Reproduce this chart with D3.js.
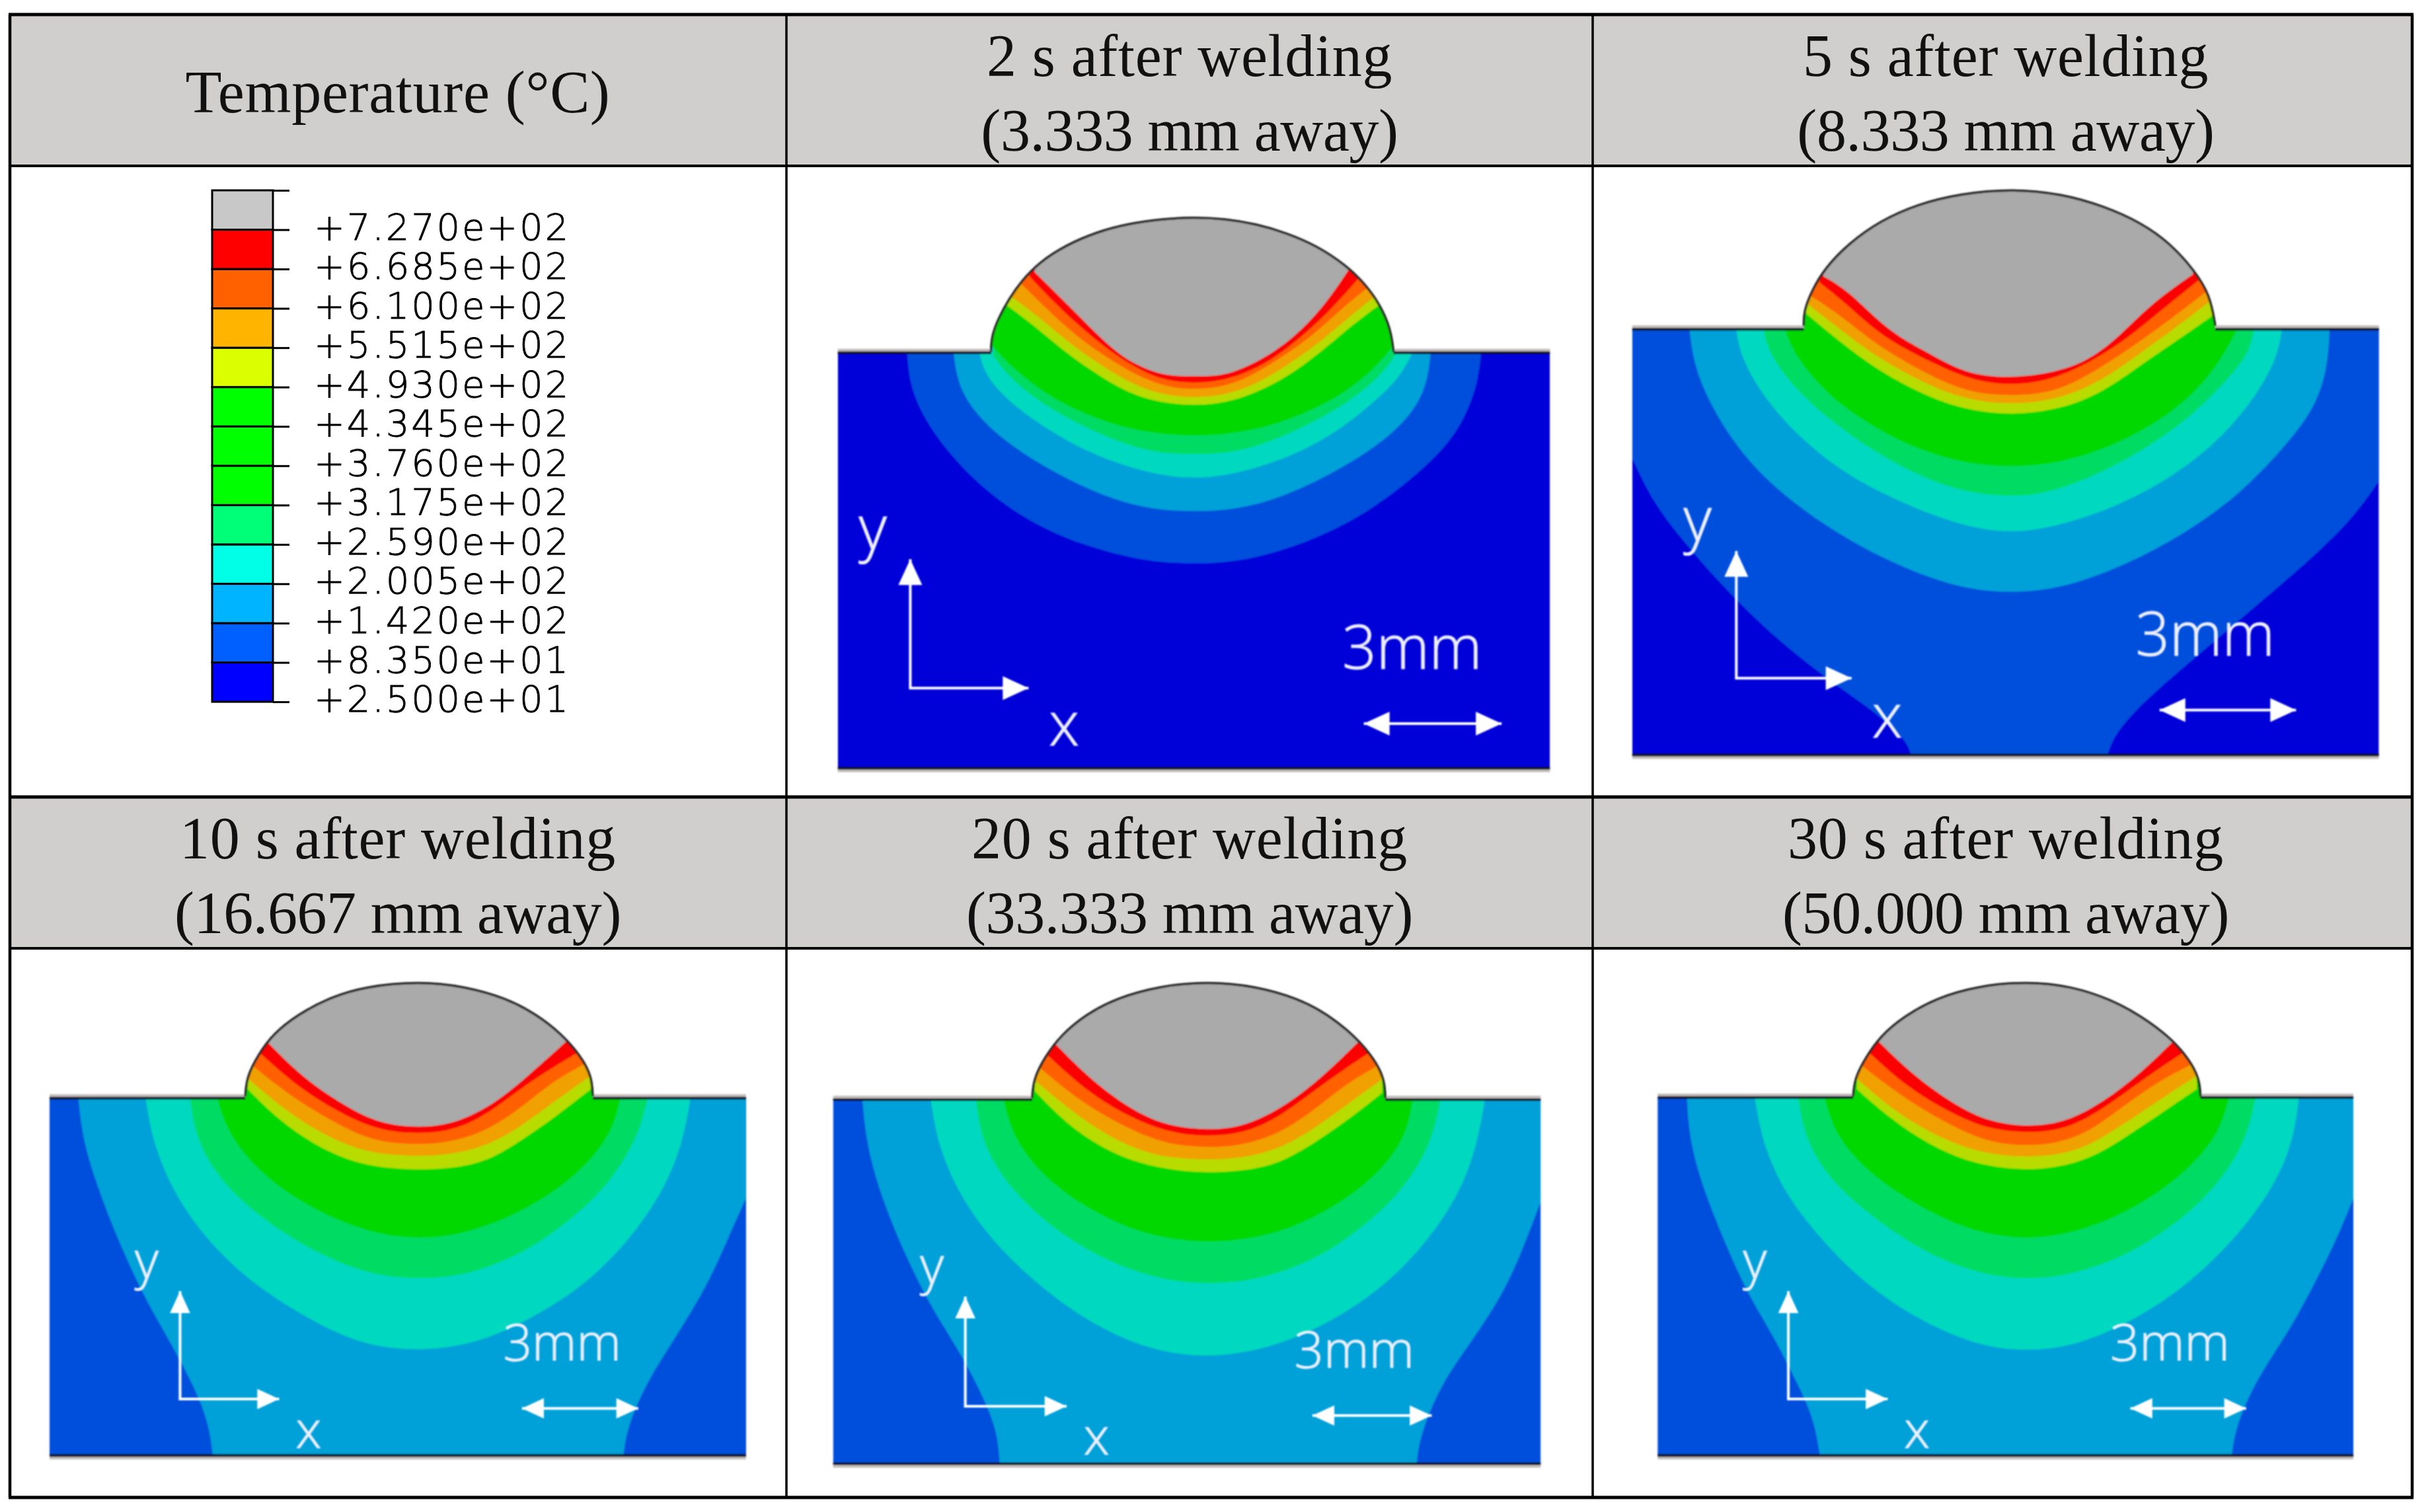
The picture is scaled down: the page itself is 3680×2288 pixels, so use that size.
<!DOCTYPE html>
<html lang="en">

<head>
  <meta charset="UTF-8">
  <title>Temperature after welding</title>
  <style>
    html, body { margin: 0; padding: 0; background: #fff; }
    svg { display: block; }
  </style>
</head>

<body>
  <svg id="chart" width="3680" height="2288"></svg>
  <script src="https://d3js.org/d3.v7.min.js"></script>
  <script>
    // Legend values (deg C) and the printed labels
    var legendValues = [25, 83.5, 142, 200.5, 259, 317.5, 376, 434.5, 493, 551.5, 610, 668.5, 727, 785.5];
    var legendLabels = ["+2.500e+01", "+8.350e+01", "+1.420e+02", "+2.005e+02", "+2.590e+02", "+3.175e+02", "+3.760e+02",
      "+4.345e+02", "+4.930e+02", "+5.515e+02", "+6.100e+02", "+6.685e+02", "+7.270e+02", ""];
    var legendColors = ["#0000ff", "#0060ff", "#00b4ff", "#00ffe6", "#00ff78", "#00ff00", "#00ff00", "#00ff00",
      "#dcff00", "#ffb400", "#ff6000", "#ff0000", "#c8c8c8"];

    // Band colours in the plots, coolest first (the plots are a bit duller than the legend)
    var baseColor = "#0000d8";
    var bandColors = ["#0050dc", "#00a0d8", "#00d8c0", "#00dc64", "#00d800", "#b8dc00", "#f0a000", "#ff6000", "#fa0000", "#aaaaaa"];

    var headerRow1 = ["Temperature (°C)", "2 s after welding\n(3.333 mm away)", "5 s after welding\n(8.333 mm away)"];
    var headerRow2 = ["10 s after welding\n(16.667 mm away)", "20 s after welding\n(33.333 mm away)", "30 s after welding\n(50.000 mm away)"];

    // Bead outlines and isotherms in a 0-1568 square image unit
    var bead1 = [[385, 468], [386, 430], [400, 385], [420, 340], [445, 295], [480, 250], [530, 210], [590, 178], [650, 158], [720, 146], [780, 142], [840, 146], [900, 158], [960, 180], [1020, 212], [1075, 258], [1110, 300], [1140, 350], [1162, 410], [1168, 468]];
    var contours1 = [
      [[222, 470], [226, 540], [250, 620], [300, 710], [370, 800], [460, 880], [560, 935], [680, 975], [780, 982], [880, 975], [1000, 930], [1100, 870], [1190, 790], [1270, 700], [1310, 620], [1332, 540], [1338, 470]],
      [[312, 470], [322, 560], [370, 640], [440, 710], [530, 775], [620, 825], [700, 850], [780, 855], [860, 850], [940, 825], [1030, 775], [1120, 710], [1190, 640], [1232, 560], [1240, 470]],
      [[362, 470], [375, 530], [430, 600], [500, 660], [580, 715], [660, 750], [730, 770], [780, 773], [830, 770], [900, 750], [980, 715], [1060, 660], [1130, 590], [1180, 530], [1205, 470]],
      [[390, 478], [420, 530], [480, 590], [550, 640], [630, 685], [700, 712], [780, 717], [860, 712], [930, 685], [1010, 640], [1080, 590], [1140, 530], [1170, 478]],
      [[385, 450], [420, 500], [490, 570], [560, 615], [640, 652], [720, 668], [780, 671], [840, 668], [920, 652], [1000, 615], [1070, 570], [1130, 510], [1170, 450]],
      [[410, 350], [470, 405], [530, 470], [600, 530], [660, 572], [720, 592], [780, 598], [840, 592], [900, 567], [960, 530], [1030, 465], [1090, 400], [1145, 350]],
      [[425, 335], [480, 385], [540, 450], [610, 510], [670, 552], [720, 572], [780, 580], [840, 572], [890, 552], [950, 510], [1020, 450], [1080, 385], [1135, 330]],
      [[445, 305], [490, 360], [550, 430], [620, 490], [680, 532], [730, 554], [780, 559], [830, 554], [880, 534], [940, 490], [1010, 430], [1065, 365], [1120, 310]],
      [[460, 285], [505, 345], [565, 415], [630, 480], [690, 522], [730, 538], [780, 544], [830, 538], [870, 524], [930, 490], [1000, 420], [1050, 360], [1100, 290]],
      [[470, 275], [515, 330], [575, 405], [635, 478], [690, 512], [730, 526], [780, 527], [830, 526], [870, 512], [935, 470], [990, 415], [1040, 345], [1080, 270]]
    ];

    var bead2 = [[385, 405], [385, 370], [400, 320], [425, 265], [470, 205], [530, 150], [600, 110], [680, 85], [775, 73], [870, 85], [950, 115], [1020, 155], [1075, 205], [1120, 270], [1150, 330], [1160, 405]];
    var contours2 = [
      [[62, 725], [100, 830], [160, 930], [250, 1060], [340, 1170], [440, 1270], [530, 1350], [575, 1405], [588, 1440], [595, 1490], [950, 1490], [957, 1440], [970, 1395], [1020, 1320], [1120, 1210], [1230, 1090], [1340, 970], [1420, 870], [1468, 780]],
      [[170, 415], [178, 500], [210, 600], [270, 720], [350, 820], [450, 910], [560, 985], [680, 1042], [775, 1052], [870, 1042], [990, 985], [1100, 910], [1200, 820], [1290, 700], [1350, 600], [1372, 500], [1375, 415]],
      [[258, 415], [266, 480], [310, 580], [380, 680], [470, 770], [580, 840], [690, 892], [775, 907], [860, 892], [980, 840], [1080, 770], [1170, 680], [1240, 570], [1277, 480], [1285, 415]],
      [[310, 415], [318, 470], [370, 560], [440, 640], [530, 720], [630, 785], [710, 812], [775, 818], [840, 812], [930, 770], [1020, 710], [1110, 630], [1180, 540], [1225, 470], [1232, 415]],
      [[350, 415], [365, 470], [420, 560], [490, 630], [580, 695], [680, 737], [775, 748], [870, 737], [960, 700], [1050, 640], [1120, 570], [1170, 490], [1200, 415]],
      [[385, 370], [440, 430], [510, 500], [590, 560], [680, 607], [775, 622], [870, 607], [950, 565], [1030, 490], [1100, 430], [1155, 380]],
      [[385, 345], [440, 400], [510, 470], [590, 530], [680, 582], [775, 597], [870, 582], [950, 535], [1020, 470], [1090, 405], [1150, 345]],
      [[395, 330], [450, 375], [520, 450], [600, 510], [690, 567], [775, 575], [860, 567], [940, 510], [1010, 450], [1080, 385], [1145, 320]],
      [[415, 300], [460, 345], [530, 430], [620, 490], [700, 537], [775, 550], [850, 537], [930, 490], [1000, 430], [1060, 365], [1128, 295]],
      [[422, 285], [470, 320], [545, 420], [620, 470], [690, 522], [775, 532], [860, 517], [920, 490], [980, 430], [1040, 350], [1118, 280]]
    ];

    var bead3 = [[485, 405], [488, 350], [510, 290], [540, 230], [590, 175], [650, 130], [720, 98], [830, 83], [920, 98], [1000, 130], [1060, 175], [1110, 230], [1150, 295], [1170, 350], [1172, 405]];
    var contours3 = [
      [[98, 1420], [1475, 1420]],
      [[155, 412], [163, 520], [190, 650], [240, 830], [290, 980], [340, 1100], [385, 1220], [413, 1320], [421, 1410], [424, 1470], [1231, 1470], [1232, 1410], [1240, 1330], [1280, 1200], [1340, 1070], [1400, 930], [1440, 800], [1475, 690]],
      [[288, 412], [303, 540], [345, 680], [410, 810], [500, 930], [600, 1020], [710, 1100], [830, 1120], [950, 1095], [1060, 1020], [1160, 930], [1250, 800], [1320, 650], [1352, 520], [1365, 412]],
      [[376, 412], [388, 530], [440, 650], [520, 750], [620, 840], [730, 905], [830, 917], [930, 905], [1040, 840], [1120, 760], [1200, 660], [1262, 520], [1280, 412]],
      [[430, 412], [448, 500], [500, 600], [580, 690], [680, 762], [770, 798], [830, 801], [890, 798], [980, 762], [1080, 690], [1160, 600], [1212, 500], [1226, 412]],
      [[490, 385], [550, 470], [620, 540], [700, 592], [780, 608], [830, 610], [880, 608], [960, 592], [1040, 520], [1100, 460], [1168, 385]],
      [[490, 355], [560, 440], [630, 505], [710, 557], [780, 570], [830, 572], [880, 570], [960, 547], [1030, 490], [1100, 415], [1165, 350]],
      [[500, 320], [570, 400], [650, 470], [730, 527], [790, 537], [830, 539], [880, 535], [950, 510], [1020, 450], [1090, 365], [1155, 315]],
      [[515, 285], [590, 380], [670, 450], [750, 502], [830, 510], [900, 500], [970, 450], [1050, 360], [1145, 280]],
      [[528, 252], [600, 355], [680, 430], [750, 482], [830, 493], [900, 482], [980, 425], [1050, 340], [1122, 248]]
    ];

    var bead4 = [[465, 410], [468, 355], [490, 295], [520, 235], [570, 175], [630, 130], [710, 97], [808, 83], [900, 97], [980, 130], [1040, 175], [1095, 240], [1130, 300], [1150, 355], [1152, 410]];
    var contours4 = [
      [[78, 1440], [1454, 1440]],
      [[135, 418], [143, 540], [170, 680], [215, 840], [270, 1000], [325, 1120], [375, 1260], [398, 1350], [402, 1433], [405, 1490], [1211, 1490], [1212, 1433], [1220, 1350], [1260, 1210], [1320, 1090], [1380, 960], [1420, 830], [1454, 700]],
      [[268, 418], [283, 550], [330, 700], [400, 830], [490, 950], [590, 1050], [700, 1118], [808, 1137], [920, 1113], [1030, 1050], [1140, 950], [1230, 820], [1300, 670], [1332, 530], [1345, 418]],
      [[356, 418], [368, 540], [420, 660], [500, 770], [600, 860], [710, 918], [808, 932], [910, 918], [1020, 860], [1100, 780], [1180, 680], [1242, 540], [1258, 418]],
      [[410, 418], [428, 520], [480, 620], [560, 710], [660, 782], [750, 808], [808, 813], [870, 808], [960, 782], [1060, 710], [1140, 620], [1192, 520], [1205, 418]],
      [[470, 390], [530, 480], [600, 550], [680, 597], [760, 615], [810, 618], [860, 615], [940, 599], [1020, 530], [1080, 470], [1146, 395]],
      [[470, 360], [540, 445], [610, 515], [690, 567], [760, 580], [810, 582], [860, 580], [940, 557], [1010, 500], [1080, 425], [1143, 360]],
      [[480, 325], [550, 410], [630, 480], [710, 532], [770, 545], [810, 547], [860, 545], [930, 520], [1000, 460], [1070, 375], [1133, 322]],
      [[495, 290], [570, 390], [650, 460], [730, 507], [810, 518], [880, 507], [950, 460], [1030, 370], [1118, 285]],
      [[510, 258], [580, 360], [660, 445], [730, 489], [810, 500], [880, 489], [960, 430], [1030, 350], [1100, 252]]
    ];

    var bead5 = [[478, 405], [481, 355], [500, 300], [530, 235], [575, 180], [635, 130], [710, 97], [805, 83], [890, 97], [965, 135], [1020, 180], [1075, 240], [1110, 300], [1130, 355], [1132, 405]];
    var contours5 = [
      [[110, 1420], [1420, 1420]],
      [[165, 412], [170, 530], [195, 660], [235, 810], [280, 960], [330, 1080], [370, 1200], [403, 1300], [416, 1410], [420, 1470], [1188, 1470], [1190, 1410], [1200, 1320], [1240, 1190], [1300, 1060], [1350, 920], [1390, 800], [1420, 690]],
      [[293, 412], [308, 540], [350, 680], [420, 810], [500, 930], [600, 1030], [710, 1103], [805, 1119], [900, 1103], [1010, 1030], [1110, 930], [1200, 800], [1270, 660], [1307, 530], [1317, 412]],
      [[375, 412], [388, 530], [440, 650], [520, 750], [620, 850], [730, 908], [805, 916], [880, 908], [980, 860], [1070, 780], [1150, 680], [1217, 540], [1235, 412]],
      [[425, 412], [443, 510], [500, 610], [580, 695], [680, 772], [760, 798], [805, 801], [850, 798], [930, 772], [1030, 700], [1110, 610], [1167, 510], [1185, 412]],
      [[485, 385], [550, 470], [620, 540], [700, 592], [770, 607], [810, 610], [860, 605], [930, 577], [1000, 510], [1060, 450], [1125, 385]],
      [[485, 355], [550, 440], [620, 505], [700, 557], [770, 572], [810, 574], [860, 570], [920, 547], [990, 480], [1060, 410], [1122, 350]],
      [[495, 320], [565, 400], [640, 470], [720, 527], [770, 540], [810, 542], [860, 537], [920, 507], [980, 440], [1050, 365], [1112, 318]],
      [[510, 285], [580, 380], [660, 450], [730, 497], [810, 508], [880, 497], [950, 440], [1030, 350], [1100, 282]],
      [[525, 250], [590, 345], [670, 430], [735, 477], [810, 491], [880, 477], [950, 420], [1020, 340], [1085, 245]]
    ];

    // Table grid lines in page pixels
    var colLines = [15, 1190, 2410, 3650];
    var rowLines = [22, 251, 1206, 1435, 2266];
    var headerCx = [602, 1800, 3035];

    // crop = where the image unit square sits on the page; box = plate [left, right, surface, bottom]
    var panels = [
      {
        crop: [1200, 240, 1220, 980], box: [87, 1472, 470, 1476], bead: bead1, contours: contours1, fs: 92, head: 1,
        y: [155, 945], x: [527, 1420], origin: [228, 1282], tipY: 970, tipX: 458, bar: [1110, 1378, 1368], mm: [1068, 1340, 1235]
      },
      {
        crop: [2420, 240, 1260, 980], box: [62, 1468, 413, 1444], bead: bead2, contours: contours2, fs: 92, head: 1,
        y: [185, 925], x: [542, 1402], origin: [258, 1258], tipY: 950, tipX: 475, bar: [1055, 1312, 1335], mm: [1010, 1272, 1203]
      },
      {
        crop: [0, 1440, 1200, 848], box: [98, 1475, 410, 1410], bead: bead3, contours: contours3, fs: 78, head: 0.85,
        y: [290, 915], x: [610, 1388], origin: [356, 1252], tipY: 950, tipX: 552, bar: [1032, 1262, 1278], mm: [995, 1228, 1145]
      },
      {
        crop: [1200, 1440, 1220, 848], box: [78, 1454, 414, 1433], bead: bead4, contours: contours4, fs: 78, head: 0.85,
        y: [270, 930], x: [590, 1408], origin: [335, 1272], tipY: 965, tipX: 532, bar: [1010, 1242, 1298], mm: [975, 1208, 1165]
      },
      {
        crop: [2420, 1440, 1260, 848], box: [110, 1420, 408, 1410], bead: bead5, contours: contours5, fs: 78, head: 0.85,
        y: [293, 915], x: [598, 1388], origin: [356, 1252], tipY: 950, tipX: 543, bar: [1000, 1218, 1278], mm: [962, 1187, 1145]
      }
    ];

    var svg = d3.select("#chart");
    var defs = svg.append("defs");
    defs.append("filter").attr("id", "soft")
      .append("feGaussianBlur").attr("stdDeviation", 1.1);

    // header cells
    svg.append("g").selectAll("rect")
      .data([[rowLines[0], rowLines[1]], [rowLines[2], rowLines[3]]])
      .enter().append("rect")
      .attr("x", colLines[0]).attr("width", colLines[3] - colLines[0])
      .attr("y", function (d) { return d[0]; })
      .attr("height", function (d) { return d[1] - d[0]; })
      .attr("fill", "#d0cfcd");

    function drawHeader(row, top, bottom) {
      row.forEach(function (label, i) {
        var lines = label.split("\n");
        var mid = (top + bottom) / 2;
        lines.forEach(function (line, k) {
          var base = lines.length === 1 ? mid + 33 : mid + (k === 0 ? -22 : 91);
          svg.append("text")
            .attr("x", headerCx[i]).attr("y", base)
            .attr("text-anchor", "middle")
            .style("font-family", "'Liberation Serif'")
            .style("font-size", "90px")
            .style("letter-spacing", k === 0 ? "0.7px" : "-0.4px")
            .attr("fill", "#111")
            .text(line);
        });
      });
    }
    drawHeader(headerRow1, rowLines[0], rowLines[1]);
    drawHeader(headerRow2, rowLines[2], rowLines[3]);

    // legend
    var legendY = d3.scaleLinear().domain([25, 785.5]).range([1062, 288]);
    var legend = svg.append("g");
    legend.selectAll("rect")
      .data(legendColors)
      .enter().append("rect")
      .attr("x", 321).attr("width", 92)
      .attr("y", function (d, i) { return legendY(legendValues[i + 1]); })
      .attr("height", function (d, i) { return legendY(legendValues[i]) - legendY(legendValues[i + 1]); })
      .attr("fill", function (d) { return d; })
      .attr("stroke", "#000").attr("stroke-width", 3);

    var legendAxis = d3.axisRight(legendY)
      .tickValues(legendValues)
      .tickSize(25)
      .tickPadding(37)
      .tickFormat(function (d, i) { return legendLabels[i]; });
    var legendG = legend.append("g")
      .attr("transform", "translate(413,0)")
      .call(legendAxis);
    legendG.select(".domain").remove();
    legendG.selectAll("line").attr("stroke", "#000").attr("stroke-width", 3);
    legendG.selectAll("text")
      .attr("dy", "0.26em")
      .style("font-family", "'DejaVu Sans'")
      .style("font-weight", 200)
      .style("font-size", "56px")
      .style("letter-spacing", "2.8px")
      .attr("fill", "#000")
      .attr("stroke", "#000").attr("stroke-width", 0.8);

    function arrowHead(x, y, dir, k) {
      // dir: unit direction of the tip, drawn as a small triangle
      var len = 39 * k, half = 18 * k;
      var bx = x - dir[0] * len, by = y - dir[1] * len;
      return "M" + x + "," + y + "L" + (bx - dir[1] * half) + "," + (by + dir[0] * half) +
        "L" + (bx + dir[1] * half) + "," + (by - dir[0] * half) + "Z";
    }

    panels.forEach(function (p, idx) {
      var xs = d3.scaleLinear().domain([0, 1568]).range([p.crop[0], p.crop[0] + p.crop[2]]);
      var ys = d3.scaleLinear().domain([0, 1568]).range([p.crop[1], p.crop[1] + p.crop[3]]);
      var left = xs(p.box[0]), right = xs(p.box[1]), surf = ys(p.box[2]), bot = ys(p.box[3]);

      var beadLine = d3.line().x(function (d) { return xs(d[0]); }).y(function (d) { return ys(d[1]); })
        .curve(d3.curveBasis);

      // one single clip outline, so no seam shows at the surface
      defs.append("clipPath").attr("id", "plate" + idx)
        .append("path")
        .attr("d", "M" + left + "," + surf + "L" + xs(p.bead[0][0]) + "," + surf +
          beadLine(p.bead).replace(/^M/, "L") +
          "L" + right + "," + surf + "V" + bot + "H" + left + "Z");

      var g = svg.append("g").attr("filter", "url(#soft)");
      var plate = g.append("g").attr("clip-path", "url(#plate" + idx + ")");
      plate.append("rect")
        .attr("x", left).attr("y", ys(0)).attr("width", right - left).attr("height", bot - ys(0))
        .attr("fill", baseColor);

      // each isotherm fills everything above it, coolest first
      var area = d3.area()
        .x(function (d) { return xs(d[0]); })
        .y0(ys(0))
        .y1(function (d) { return ys(d[1]); })
        .curve(d3.curveBasis);
      plate.selectAll("path.band")
        .data(p.contours)
        .enter().append("path")
        .attr("class", "band")
        .attr("d", area)
        .attr("fill", function (d, i) { return bandColors[i]; });

      // outline: grey halo with the dark line on it
      var first = p.bead[0], last = p.bead[p.bead.length - 1];
      var surfaceL = [[left, surf], [xs(first[0]), surf]];
      var surfaceR = [[xs(last[0]), surf], [right, surf]];
      [surfaceL, surfaceR, [[left, bot], [right, bot]]].forEach(function (seg, k) {
        g.append("line")
          .attr("x1", seg[0][0]).attr("y1", seg[0][1] + (k === 2 ? 3 : -3))
          .attr("x2", seg[1][0]).attr("y2", seg[1][1] + (k === 2 ? 3 : -3))
          .attr("stroke", "#c4bfbc").attr("stroke-width", 6);
        g.append("line")
          .attr("x1", seg[0][0]).attr("y1", seg[0][1])
          .attr("x2", seg[1][0]).attr("y2", seg[1][1])
          .attr("stroke", "#0a1020").attr("stroke-width", 4);
      });
      g.append("path").attr("d", beadLine(p.bead)).attr("fill", "none")
        .attr("stroke", "#222").attr("stroke-width", 3.5);

      // coordinate arrows and scale bar
      var ann = svg.append("g").attr("filter", "url(#soft)");
      var ox = xs(p.origin[0]), oy = ys(p.origin[1]);
      ann.append("path")
        .attr("d", "M" + ox + "," + ys(p.tipY) + "V" + oy + "H" + xs(p.tipX))
        .attr("fill", "none").attr("stroke", "#fff").attr("stroke-width", 4);
      ann.append("path").attr("d", arrowHead(ox, ys(p.tipY), [0, -1], p.head)).attr("fill", "#fff");
      ann.append("path").attr("d", arrowHead(xs(p.tipX), oy, [1, 0], p.head)).attr("fill", "#fff");

      var bx0 = xs(p.bar[0]), bx1 = xs(p.bar[1]), by = ys(p.bar[2]);
      ann.append("line").attr("x1", bx0).attr("x2", bx1).attr("y1", by).attr("y2", by)
        .attr("stroke", "#fff").attr("stroke-width", 4);
      ann.append("path").attr("d", arrowHead(bx0, by, [-1, 0], p.head)).attr("fill", "#fff");
      ann.append("path").attr("d", arrowHead(bx1, by, [1, 0], p.head)).attr("fill", "#fff");

      var txt = function (x, y, s) {
        return ann.append("text").attr("x", x).attr("y", y)
          .style("font-family", "'Open Sans'").style("font-weight", 300)
          .style("font-size", p.fs + "px").attr("fill", "#eef0ff")
          .attr("stroke", "#eef0ff").attr("stroke-width", 1).text(s);
      };
      txt(xs(p.y[0]), ys(p.y[1]), "y").attr("text-anchor", "middle");
      txt(xs(p.x[0]), ys(p.x[1]), "x").attr("text-anchor", "middle");
      txt(xs(p.mm[0]), ys(p.mm[2]), "3mm")
        .attr("textLength", xs(p.mm[1]) - xs(p.mm[0]))
        .attr("lengthAdjust", "spacingAndGlyphs");
    });

    // grid on top
    var grid = svg.append("g").attr("stroke", "#000");
    rowLines.forEach(function (y, i) {
      grid.append("line").attr("x1", colLines[0] - 2).attr("x2", colLines[3] + 2).attr("y1", y).attr("y2", y)
        .attr("stroke-width", i === 0 || i === 2 || i === 4 ? 5 : 4);
    });
    colLines.forEach(function (x, i) {
      grid.append("line").attr("x1", x).attr("x2", x).attr("y1", rowLines[0]).attr("y2", rowLines[4])
        .attr("stroke-width", i === 0 || i === 3 ? 4.5 : 3.5);
    });
  </script>
</body>

</html>
